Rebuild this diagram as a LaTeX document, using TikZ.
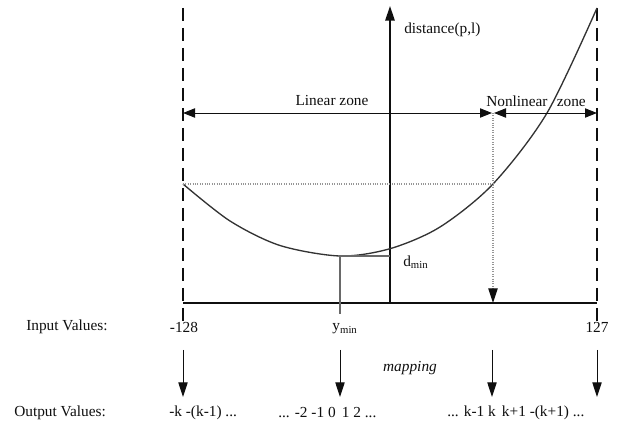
\documentclass[tikz,border=0pt]{standalone}
\usepackage{fontspec}
\setmainfont{Liberation Serif}
\usepackage{tikz}
\usetikzlibrary{arrows.meta, positioning, calc}
\definecolor{mydark}{RGB}{15,15,15}
\definecolor{mygray}{RGB}{105,105,105}
\definecolor{mydot}{RGB}{150,150,150}
\tikzset{
  txt/.style={font=\fontsize{11.5}{13}\selectfont, inner sep=0pt, text=mydark},
  border/.style={line width=0.8pt, color=mydark, dash pattern=on 10pt off 5pt},
  axis/.style={line width=1.5pt, color=mydark},
  axisarrow/.style={-{Triangle[length=11pt, width=7pt]}, line width=1.5pt, color=mydark},
  zone/.style={{Triangle[length=9pt, width=7pt]}-{Triangle[length=9pt, width=7pt]}, line width=0.7pt, color=mydark},
  guide/.style={line width=0.8pt, color=mydot, densely dotted},
  curve/.style={line width=1pt, color=mydark!85},
  thinline/.style={line width=0.8pt, color=mygray},
  arrow/.style={-{Triangle[length=11pt, width=7pt]}, line width=0.7pt, color=mydark}
}

\begin{document}
\begin{tikzpicture}[x=0.75pt, y=-0.75pt]
  \useasboundingbox (0,0) rectangle (621,427);

  % Frame
  \coordinate (lt) at (183,8);
  \coordinate (lb) at (183,322);
  \coordinate (rt) at (597,8);
  \coordinate (rb) at (597,322);
  \draw[border] (lt) -- (lb);
  \draw[border] (rt) -- (rb);

  % Axes
  \coordinate (bl) at (183,303);
  \coordinate (br) at (597,303);
  \coordinate (o) at (390,303);
  \coordinate (top) at (390,6);
  \draw[axis] (bl) -- (br);
  \draw[axisarrow] (o) -- (top);

  % Distance curve
  \draw[curve] plot[smooth] coordinates {(183,184) (230,221) (280,245.5) (340,256) (390,248.7) (440,227) (493,184) (547,113) (597,8)};

  % Zones
  \coordinate (lz) at (183,113);
  \coordinate (mzl) at (492,113);
  \coordinate (mzr) at (494,113);
  \coordinate (rz) at (597,113);
  \draw[zone] (lz) -- (mzl);
  \draw[zone] (mzr) -- (rz);

  % Guides
  \coordinate (lc) at (183,184);
  \coordinate (kc) at (493,184);
  \coordinate (kt) at (493,113);
  \coordinate (kb) at (493,303);
  \draw[guide] (lc) -- (kc);
  \draw[guide, -{Triangle[length=11pt, width=7pt, color=mydark]}] (kt) -- (kb);

  % Minimum
  \coordinate (ymin) at (340,256);
  \coordinate (dmin) at (390,256);
  \coordinate (yb) at (340,314);
  \draw[thinline] (yb) -- (ymin) -- (dmin);

  % Labels
  \node[txt, anchor=west] (dist) at (404,30) {distance(p,l)};
  \node[txt] (lin) at (332,101) {Linear zone};
  \node[txt] (nonlin) at (536,101) {Nonlinear\hspace{0.6em}zone};
  \node[txt, anchor=west] (dm) at (403,262) {d\textsubscript{min}};

  % Inputs
  \node[txt, anchor=west] (inlab) at (26,327) {Input Values:};
  \node[txt] (ina) at (184,327) {-128};
  \node[txt] (inb) at (345,329) {y\textsubscript{min}};
  \node[txt] (ind) at (597,327) {127};

  % Mapping
  \coordinate (sa) at (183,350);
  \coordinate (sb) at (340,350);
  \coordinate (sc) at (492,350);
  \coordinate (sd) at (597,350);
  \coordinate (ea) at (183,397);
  \coordinate (eb) at (340,397);
  \coordinate (ec) at (492,397);
  \coordinate (ed) at (597,397);
  \draw[arrow] (sa) -- (ea);
  \draw[arrow] (sb) -- (eb);
  \draw[arrow] (sc) -- (ec);
  \draw[arrow] (sd) -- (ed);
  \node[txt, font=\fontsize{11.5}{13}\selectfont\itshape] (map) at (410,368) {mapping};

  % Outputs
  \node[txt, anchor=west] (outlab) at (14,413) {Output Values:};
  \node[txt, anchor=west] (outa) at (169,413) {-k -(k-1) ...};
  \node[txt, anchor=west] (outb) at (278,413) {... -2 -1 0\hspace{0.4em}1 2 ...};
  \node[txt, anchor=west] (outc) at (447,413) {... k-1 k\hspace{0.4em}k+1 -(k+1) ...};
\end{tikzpicture}
\end{document}
